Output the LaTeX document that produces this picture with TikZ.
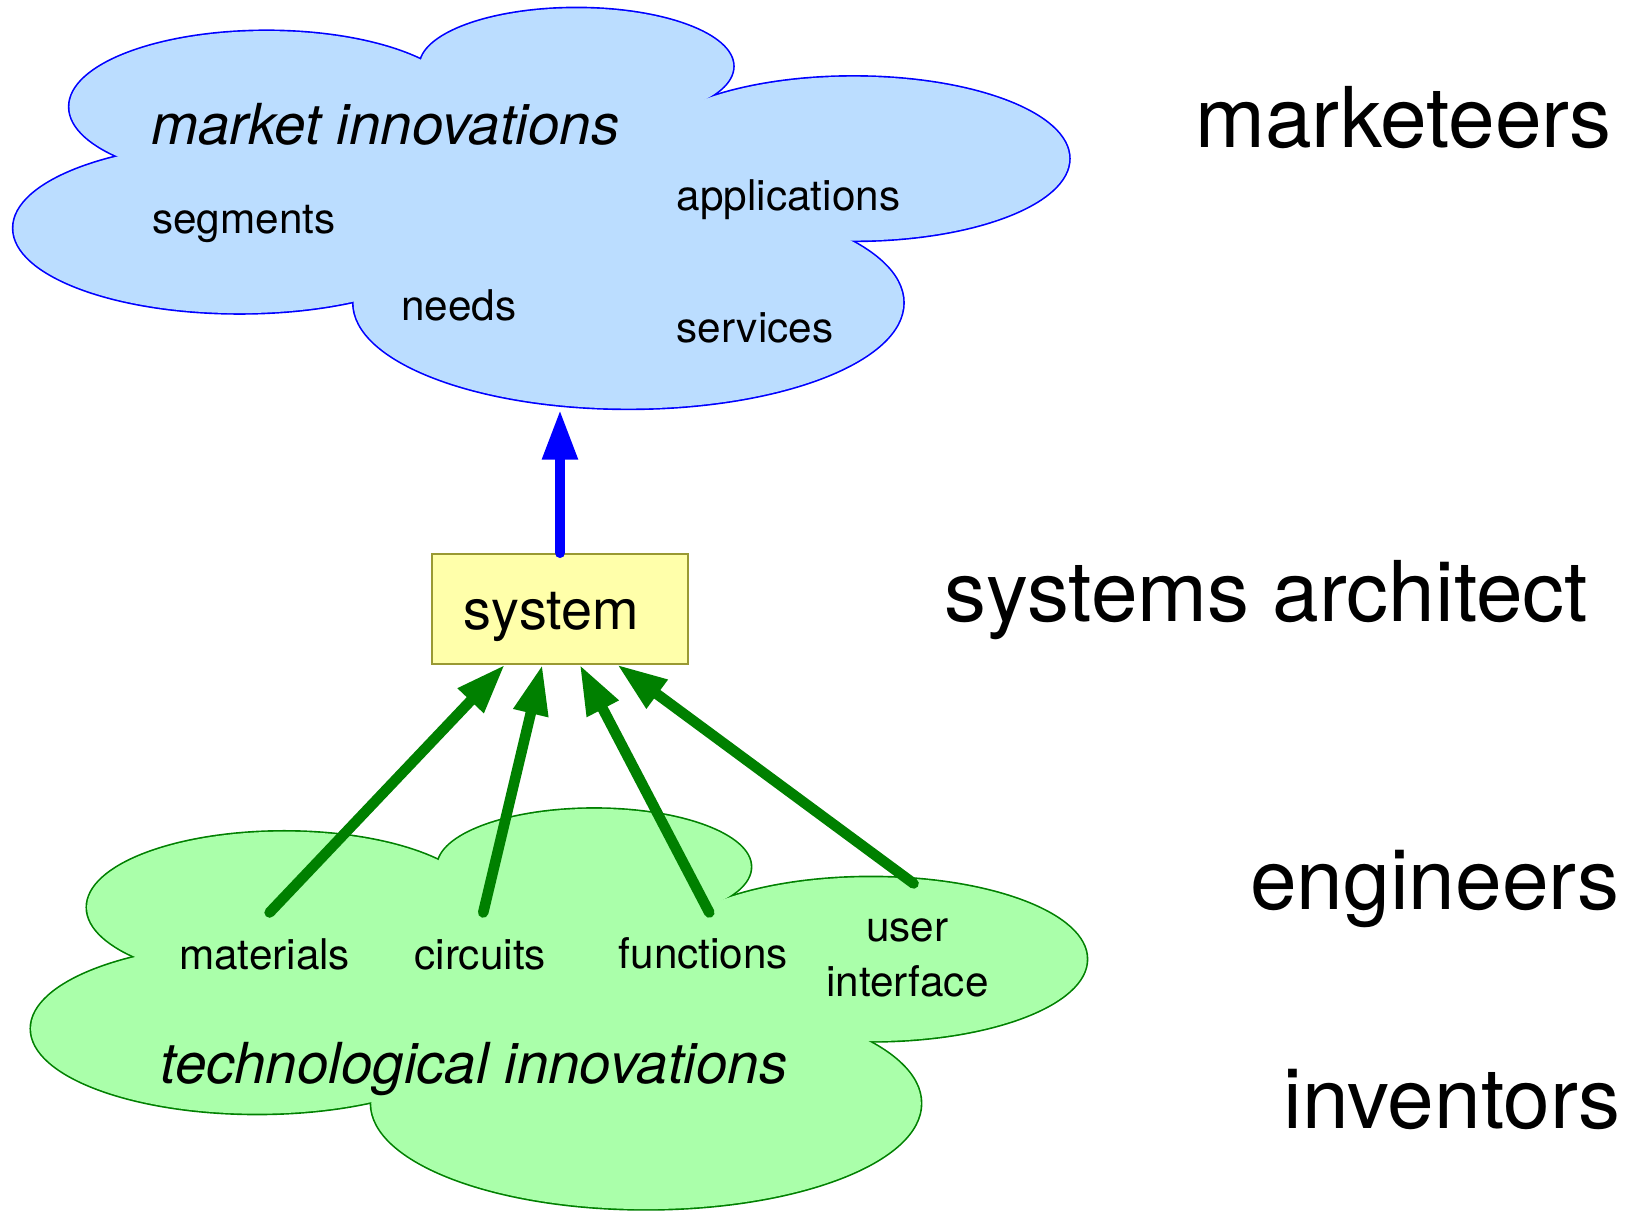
\documentclass[tikz,border=0pt]{standalone}
\usepackage{fontspec}
\setmainfont{TeX Gyre Heros}
\usetikzlibrary{arrows.meta}

\definecolor{cloudblue}{RGB}{187,221,255}
\definecolor{cloudgreen}{RGB}{170,255,170}
\definecolor{darkgreen}{RGB}{0,128,0}
\definecolor{boxyellow}{RGB}{255,255,170}
\definecolor{boxolive}{RGB}{153,153,51}

% centre x/y and radii of the five lobes of a cloud
\newcommand{\cloudlobes}{257/1065/190/73, 556/1104/151/56, 823/1015/208/79, 606/876/265/102, 231/948/218/82}
% the middle of a cloud, between the lobes
\newcommand{\cloudcore}{(124, 1015) -- (411, 1098) -- (683, 1071) -- (814, 943) -- (346, 879) -- cycle}

\begin{document}
\begin{tikzpicture}[x=0.01cm, y=0.01cm,
    role/.style={anchor=base west, inner sep=0pt, font=\fontsize{23}{28}\selectfont},
    topic/.style={anchor=base west, inner sep=0pt, font=\fontsize{15.5}{19}\selectfont\itshape},
    item/.style={anchor=base west, inner sep=0pt, font=\fontsize{11.6}{15.1}\selectfont},
    feed/.style={-{Triangle[length=13.7pt, width=9.1pt]}, line width=2.9pt, line cap=round}]
    \useasboundingbox (0, 0) rectangle (1568, 1168);

    % market cloud
    \foreach \cx/\cy/\rx/\ry in \cloudlobes
        \draw[blue, line width=0.9pt] (\cx, \cy) ellipse[x radius=\rx, y radius=\ry];
    \foreach \cx/\cy/\rx/\ry in \cloudlobes
        \fill[cloudblue] (\cx, \cy) ellipse[x radius=\rx, y radius=\ry];
    \fill[cloudblue] \cloudcore;

    % technology cloud, same shape lower down
    \begin{scope}[shift={(17, -772)}]
        \foreach \cx/\cy/\rx/\ry in \cloudlobes
            \draw[darkgreen, line width=0.9pt] (\cx, \cy) ellipse[x radius=\rx, y radius=\ry];
        \foreach \cx/\cy/\rx/\ry in \cloudlobes
            \fill[cloudgreen] (\cx, \cy) ellipse[x radius=\rx, y radius=\ry];
        \fill[cloudgreen] \cloudcore;
    \end{scope}

    % market side
    \node[topic] (market) at (145, 1029) {market innovations};
    \node[item] (segments) at (146, 943) {segments};
    \node[item] (applications) at (652, 965) {applications};
    \node[item] (needs) at (386, 859) {needs};
    \node[item] (services) at (652, 838) {services};

    % technology side
    \node[item] (materials) at (172, 233) {materials};
    \node[item] (circuits) at (399, 233) {circuits};
    \node[item] (functions) at (596, 234) {functions};
    \node[anchor=north, inner sep=0pt, align=center, font=\fontsize{11.6}{15.1}\selectfont] (userif) at (875, 283) {user\\interface};
    \node[topic] (techno) at (154, 123) {technological innovations};

    % the system in the middle
    \node[draw=boxolive, fill=boxyellow, line width=0.5pt, inner xsep=0.31cm, inner ysep=0pt,
          text width=1.85cm, align=left, text height=0.73cm, text depth=0.33cm,
          font=\fontsize{15.3}{18}\selectfont] (sys) at (540, 581) {system};

    % roles
    \node[role] (marketeers) at (1152, 1026) {marketeers};
    \node[role] (architect) at (910, 569) {systems architect};
    \node[role] (engineers) at (1205, 291) {engineers};
    \node[role] (inventors) at (1237, 80) {inventors};

    % arrow ends
    \coordinate (mktfoot) at (540, 773);
    \coordinate (matfoot) at (260, 288);
    \coordinate (cirfoot) at (466, 288);
    \coordinate (funfoot) at (684, 288);
    \coordinate (uifoot) at (881, 316);

    \draw[feed, blue] (sys.north) -- (mktfoot);
    \draw[feed, darkgreen] (matfoot) -- ([xshift=-0.53cm]sys.south);
    \draw[feed, darkgreen] (cirfoot) -- ([xshift=-0.17cm]sys.south);
    \draw[feed, darkgreen] (funfoot) -- ([xshift=0.19cm]sys.south);
    \draw[feed, darkgreen] (uifoot) -- ([xshift=0.55cm]sys.south);
\end{tikzpicture}
\end{document}
